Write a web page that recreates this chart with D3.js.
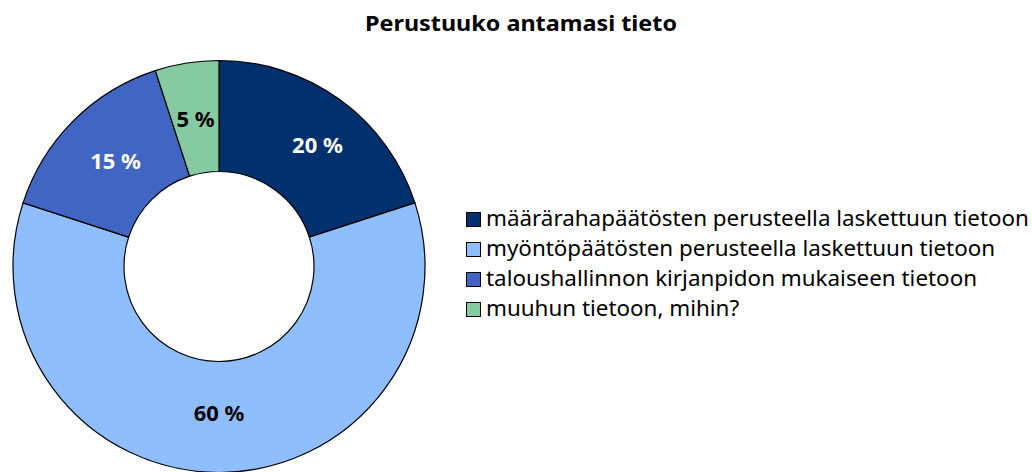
<!DOCTYPE html>
<html><head><meta charset="utf-8">
<script src="https://cdn.jsdelivr.net/npm/d3@7"></script>
<style>body{margin:0;background:#fff}svg{display:block}</style>
</head><body>
<svg id="c" width="1032" height="472"></svg>
<script>
const categories = ["määrärahapäätösten perusteella laskettuun tietoon","myöntöpäätösten perusteella laskettuun tietoon","taloushallinnon kirjanpidon mukaiseen tietoon","muuhun tietoon, mihin?"];
const values = [20, 60, 15, 5];
const labels = ["20 %","60 %","15 %","5 %"];
const colors = ["#00306E","#8FBEFF","#4165C3","#85CAA0"];
const labelColors = ["#fff","#000","#fff","#000"];
const title = "Perustuuko antamasi tieto";

const svg = d3.select("#c");
const font = "'Noto Sans', sans-serif";
const cx = 219, cy = 266.5, R = 206, r = 95;

svg.append("text").attr("x", 521).attr("y", 31).attr("text-anchor","middle")
  .attr("font-family", font).attr("font-weight","bold").attr("font-size", 22)
  .attr("textLength", 312).attr("lengthAdjust","spacingAndGlyphs").text(title);

const pie = d3.pie().sort(null).value(d=>d)(values);
const arc = d3.arc().innerRadius(r).outerRadius(R);
const g = svg.append("g").attr("transform",`translate(${cx},${cy})`);
g.selectAll("path").data(pie).join("path").attr("d", arc)
  .attr("fill",(d,i)=>colors[i]).attr("stroke","#000").attr("stroke-width",1.2);
const mid = d3.arc().innerRadius((R+r)/2).outerRadius((R+r)/2);
g.selectAll("text").data(pie).join("text")
  .attr("transform", (d,i)=>{const c = mid.centroid(d); return `translate(${c[0] + (i===0?10:i===2?3:0)},${c[1] + (i===1?-5:i===0?-1:0)})`;})
  .attr("text-anchor","middle").attr("dominant-baseline","central")
  .attr("font-family", font).attr("font-weight","bold").attr("font-size", 22)
  .attr("fill",(d,i)=>labelColors[i]).text((d,i)=>labels[i]);

const leg = svg.append("g").attr("transform","translate(466,212)");
const rows = leg.selectAll("g").data(categories).join("g").attr("transform",(d,i)=>`translate(0,${i*30})`);
rows.append("rect").attr("x",0.5).attr("y",0.5).attr("width",14).attr("height",14)
  .attr("fill",(d,i)=>colors[i]).attr("stroke","#000").attr("stroke-width",1);
rows.append("text").attr("x",20).attr("y",13.5)
  .attr("font-family", font).attr("font-size", 22.4).attr("fill","#000").text(d=>d);
</script>
</body></html>
